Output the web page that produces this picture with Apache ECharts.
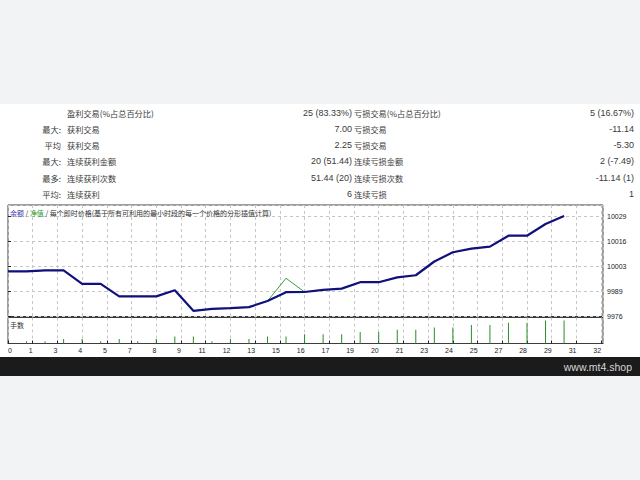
<!DOCTYPE html>
<html><head><meta charset="utf-8">
<script src="https://cdn.jsdelivr.net/npm/echarts@6/dist/echarts.min.js"></script>
<style>
html,body{margin:0;padding:0;background:#f1f3f4;}
#c{width:640px;height:480px;background:linear-gradient(to bottom,#f1f3f4 0,#f1f3f4 104px,#ffffff 104px,#ffffff 357px,#1b1b1b 357px,#1b1b1b 376px,#f1f3f4 376px,#f1f3f4 480px);}
</style>
</head><body><div id="c"></div>
<script>
// ---- data ----
const tradeIndex = [0,1,2,3,4,5,6,7,8,9,10,11,12,13,14,15,16,17,18,19,20,21,22,23,24,25,26,27,28,29,30];
const balance = [10000.0,10000.0,10000.5,10000.5,9993.3,9993.3,9986.7,9986.7,9986.7,9989.9,9979.0,9980.0,9980.4,9981.0,9984.2,9988.9,9989.0,9990.1,9990.8,9994.2,9994.2,9996.8,9997.9,10005.2,10010.1,10012.0,10013.1,10018.9,10018.9,10025.1,10029.4];
const equity  = [10000.0,10000.0,10000.5,10000.5,9993.3,9993.3,9986.7,9986.7,9986.7,9989.9,9979.0,9980.0,9980.4,9981.0,9984.2,9996.3,9989.0,9990.1,9990.8,9994.2,9994.2,9996.8,9997.9,10005.2,10010.1,10012.0,10013.1,10018.9,10018.9,10025.1,10029.4];
const lotIndex = [1,2,3,4,5,6,7,8,9,10,11,12,13,14,15,16,17,18,19,20,21,22,23,24,25,26,27,28,29,30];
const lots = [0.01,0.01,0.02,0.02,0.01,0.02,0.01,0.02,0.03,0.03,0.01,0.02,0.02,0.03,0.03,0.04,0.04,0.04,0.05,0.05,0.06,0.06,0.07,0.07,0.08,0.08,0.09,0.09,0.10,0.10];
const xTickLabels = ['0','1','3','4','5','7','8','9','11','12','13','15','16','17','19','20','21','23','24','25','27','28','29','31','32'];
const yTickLabels = ['9976','9989','10003','10016','10029'];

const rowPrefixes = ['', '最大:', '平均', '最大:', '最多:', '平均:'];
const leftLabels  = ['盈利交易(%占总百分比)','获利交易','获利交易','连续获利金额','连续获利次数','连续获利'];
const leftValues  = ['25 (83.33%)','7.00','2.25','20 (51.44)','51.44 (20)','6'];
const rightLabels = ['亏损交易(%占总百分比)','亏损交易','亏损交易','连续亏损金额','连续亏损次数','连续亏损'];
const rightValues = ['5 (16.67%)','-11.14','-5.30','2 (-7.49)','-11.14 (1)','1'];
const chartTitle = ['余额','净值','每个即时价格(基于所有可利用的最小时段的每一个价格的分形插值计算)'];
const volumeLabel = '手数';
const footerText = 'www.mt4.shop';

// ---- layout ----
const rowY = [113, 129, 145, 161, 177.5, 193.5];
const CJK = '"Noto Sans CJK SC","Noto Sans",sans-serif';
const NUM = '"Liberation Sans",Arial,sans-serif';
const txtColor = '#3a3a3a';
const Y_MIN = 9976, Y_INT = 13.25, Y_MAX = 10035.2;
const X_INT = 4/3, X_MAX = 32.1;

function txt(x, y, text, font, align, color) {
  return {type:'text', z:10, silent:true, style:{x:x, y:y, text:text, font:font, fill:color||txtColor,
    align:align, textAlign:align, verticalAlign:'middle', textVerticalAlign:'middle'}};
}
const els = [];
for (let i = 0; i < rowY.length; i++) {
  if (rowPrefixes[i]) els.push(txt(61, rowY[i], rowPrefixes[i], '8.2px ' + CJK, 'right'));
  els.push(txt(67, rowY[i], leftLabels[i], '8.2px ' + CJK, 'left'));
  els.push(txt(352, rowY[i], leftValues[i], '9px ' + NUM, 'right'));
  els.push(txt(354, rowY[i], rightLabels[i], '8.2px ' + CJK, 'left'));
  els.push(txt(634, rowY[i], rightValues[i], '9px ' + NUM, 'right'));
}
els.push({type:'text', z:10, silent:true, style:{x:10, y:212.5,
  text:'{b|' + chartTitle[0] + '} / {g|' + chartTitle[1] + '} / ' + chartTitle[2],
  font:'7px ' + CJK, fill:'#333', align:'left', textAlign:'left', verticalAlign:'middle', textVerticalAlign:'middle',
  rich:{b:{fill:'#3838a8', font:'7px ' + CJK}, g:{fill:'#2a9a2a', font:'7px ' + CJK}}}});
els.push(txt(10, 324.5, volumeLabel, '7px ' + CJK, 'left', '#333'));
els.push(txt(632, 366.5, footerText, '10.5px ' + NUM, 'right', '#d6d6d6'));

const dash = {color:'#c6c6c6', type:[3,3], width:1};
const chart = echarts.init(document.getElementById('c'), null, {renderer:'svg'});
chart.setOption({
  animation:false,
  backgroundColor:'transparent',
  grid:[
    {left:8, right:37, top:205, height:111.5, show:true, borderColor:'#3c3c3c', borderWidth:1, backgroundColor:'transparent'},
    {left:8, right:37, top:317.5, height:26, show:true, borderColor:'#3c3c3c', borderWidth:1, backgroundColor:'transparent'}
  ],
  xAxis:[
    {gridIndex:0, type:'value', min:0, max:X_MAX, interval:X_INT,
     axisLine:{show:false}, axisTick:{show:false}, axisLabel:{show:false},
     splitLine:{show:true, lineStyle:dash}},
    {gridIndex:1, type:'value', min:0, max:X_MAX, interval:X_INT,
     axisLine:{show:true, lineStyle:{color:'#3c3c3c', width:1}},
     axisTick:{show:true, inside:true, length:3, lineStyle:{color:'#222'}},
     axisLabel:{show:true, fontSize:7, fontFamily:NUM, color:'#222', align:'right', alignMinLabel:'left', margin:3,
       showMaxLabel:false, formatter:function(v){ return xTickLabels[Math.round(v / X_INT)] || ''; }},
     splitLine:{show:true, lineStyle:dash}}
  ],
  yAxis:[
    {gridIndex:0, type:'value', position:'right', min:Y_MIN, max:Y_MAX, interval:Y_INT,
     axisLine:{show:false}, axisTick:{show:true, length:3, lineStyle:{color:'#222'}},
     axisLabel:{fontSize:7, fontFamily:NUM, color:'#222', margin:4, showMaxLabel:false,
       formatter:function(v){ return yTickLabels[Math.round((v - Y_MIN) / Y_INT)] || ''; }},
     splitLine:{show:true, lineStyle:dash}},
    {gridIndex:1, type:'value', min:0, max:0.113, show:false}
  ],
  series:[
    {type:'line', xAxisIndex:0, yAxisIndex:0, symbol:'none', z:3,
     data:tradeIndex.map(function(k,i){return [k, equity[i]];}),
     lineStyle:{color:'#3c9c3c', width:1}},
    {type:'line', xAxisIndex:0, yAxisIndex:0, symbol:'none', z:4,
     data:tradeIndex.map(function(k,i){return [k, balance[i]];}),
     lineStyle:{color:'#10107e', width:2.2}},
    {type:'bar', xAxisIndex:1, yAxisIndex:1, barWidth:1, z:3,
     data:lotIndex.map(function(k,i){return [k, lots[i]];}),
     itemStyle:{color:'#2a8c2a'}}
  ],
  graphic:{elements:els}
});
</script>
</body></html>
